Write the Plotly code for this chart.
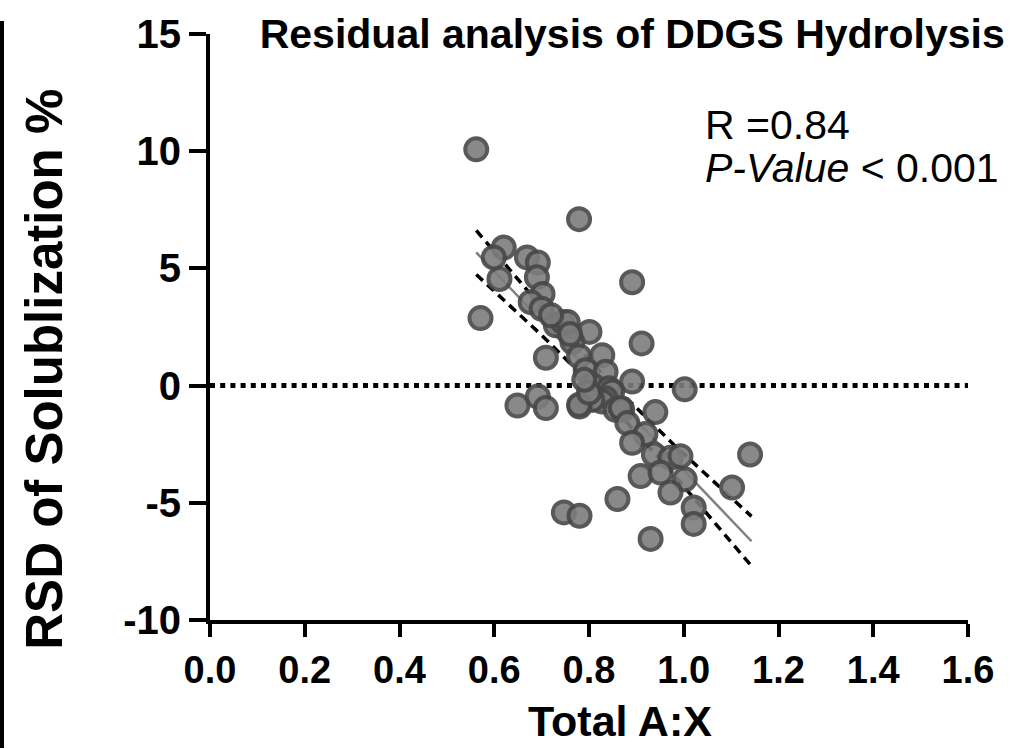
import plotly.graph_objects as go

# ---- data ----
total_ax = [0.562, 0.779, 0.891, 0.571, 0.620, 0.599, 0.611, 0.669, 0.692, 0.690,
            0.702, 0.677, 0.700, 0.730, 0.744, 0.755, 0.801, 0.765, 0.709, 0.779,
            0.828, 0.793, 0.835, 0.807, 0.911, 0.891, 1.002, 0.842, 0.849, 0.835,
            0.814, 0.828, 0.807, 0.780, 0.856, 0.870, 0.867, 0.940, 0.881, 0.919,
            0.891, 0.937, 0.972, 0.993, 1.140, 0.909, 0.951, 1.002, 0.972, 1.102,
            0.860, 1.021, 1.021, 0.930, 0.649, 0.692, 0.709, 0.747, 0.780, 0.779,
            0.800, 0.790, 0.760, 0.720]
rsd_solub = [10.08, 7.10, 4.41, 2.88, 5.89, 5.47, 4.55, 5.47, 5.25, 4.62,
             3.91, 3.56, 3.28, 2.57, 2.71, 2.71, 2.29, 1.86, 1.19, 1.25,
             1.30, 0.66, 0.59, 0.03, 1.80, 0.17, -0.16, -0.11, -0.25, -0.54,
             -0.54, -0.68, -0.61, -0.89, -1.03, -1.03, -0.96, -1.13, -1.60, -2.07,
             -2.44, -2.94, -3.08, -3.01, -2.94, -3.86, -3.71, -4.00, -4.56, -4.35,
             -4.84, -5.20, -5.90, -6.54, -0.85, -0.47, -0.96, -5.41, -5.55, -0.82,
             -0.30, 0.25, 2.20, 3.00]

fit_x = [0.562, 0.70, 0.83, 0.98, 1.143]
fit_y = [5.68, 2.75, 0.00, -3.18, -6.64]
ci_upper = [6.62, 3.35, 0.45, -2.54, -5.58]
ci_lower = [4.74, 2.15, -0.45, -3.82, -7.70]

x_ticks = [0.0, 0.2, 0.4, 0.6, 0.8, 1.0, 1.2, 1.4, 1.6]
x_ticklabels = ["0.0", "0.2", "0.4", "0.6", "0.8", "1.0", "1.2", "1.4", "1.6"]
y_ticks = [-10, -5, 0, 5, 10, 15]
y_ticklabels = ["-10", "-5", "0", "5", "10", "15"]

FONT = "Liberation Sans, Arial, sans-serif"

fig = go.Figure()

fig.add_trace(go.Scatter(x=fit_x, y=ci_upper, mode="lines",
                         line=dict(color="black", width=3.5, dash="9px,6px"),
                         hoverinfo="skip", showlegend=False))
fig.add_trace(go.Scatter(x=fit_x, y=ci_lower, mode="lines",
                         line=dict(color="black", width=3.5, dash="9px,6px"),
                         hoverinfo="skip", showlegend=False))
fig.add_trace(go.Scatter(x=fit_x, y=fit_y, mode="lines",
                         line=dict(color="rgb(128,128,128)", width=2.5),
                         hoverinfo="skip", showlegend=False))
fig.add_trace(go.Scatter(x=total_ax, y=rsd_solub, mode="markers",
                         marker=dict(size=22, color="rgb(125,125,125)", opacity=0.9,
                                     line=dict(color="rgb(72,72,72)", width=4)),
                         showlegend=False))

# dotted zero line
fig.add_shape(type="line", xref="paper", x0=0, x1=1, yref="y", y0=0, y1=0,
              line=dict(color="black", width=5, dash="5px,5.2px"), layer="below")
# thin frame line at far left of the picture
fig.add_shape(type="line", xref="paper", x0=-0.2744, x1=-0.2744,
              yref="paper", y0=1.022, y1=-0.2186,
              line=dict(color="black", width=4))

fig.add_annotation(x=1.04, y=11.1, xref="x", yref="y", text="R =0.84",
                   showarrow=False, xanchor="left", yanchor="middle",
                   font=dict(family=FONT, size=41, color="black"))
fig.add_annotation(x=1.04, y=9.3, xref="x", yref="y",
                   text="<i>P-Value</i> < 0.001",
                   showarrow=False, xanchor="left", yanchor="middle",
                   font=dict(family=FONT, size=41, color="black"))

# axis titles
fig.add_annotation(x=-0.2177, y=0.4288, xref="paper", yref="paper",
                   text="<b>RSD of Solublization %</b>", textangle=-90,
                   showarrow=False, xanchor="center", yanchor="middle",
                   font=dict(family=FONT, size=51, color="black"))
fig.add_annotation(x=0.541, y=-0.172, xref="paper", yref="paper",
                   text="<b>Total A:X</b>",
                   showarrow=False, xanchor="center", yanchor="middle",
                   font=dict(family=FONT, size=43, color="black"))

fig.update_layout(
    width=1010, height=749,
    margin=dict(l=210, r=42, t=30, b=129),
    paper_bgcolor="white", plot_bgcolor="white",
    title=dict(text="<b>Residual analysis of DDGS Hydrolysis</b>",
               x=0.626, xanchor="center", y=0.955, yanchor="middle",
               font=dict(family=FONT, size=41, color="black")),
    font=dict(family=FONT, color="black"),
    xaxis=dict(range=[0, 1.6], tickvals=x_ticks, ticktext=x_ticklabels,
               showline=True, linecolor="black", linewidth=4,
               ticks="outside", ticklen=13, tickwidth=4, tickcolor="black",
               showgrid=False, zeroline=False,
               tickfont=dict(family=FONT, size=38, color="black", weight="bold")),
    yaxis=dict(range=[-10, 15], tickvals=y_ticks, ticktext=y_ticklabels,
               showline=True, linecolor="black", linewidth=4,
               ticks="outside", ticklen=17, tickwidth=4, tickcolor="black",
               showgrid=False, zeroline=False,
               tickfont=dict(family=FONT, size=40, color="black", weight="bold")),
)

fig.write_html("out.html")
